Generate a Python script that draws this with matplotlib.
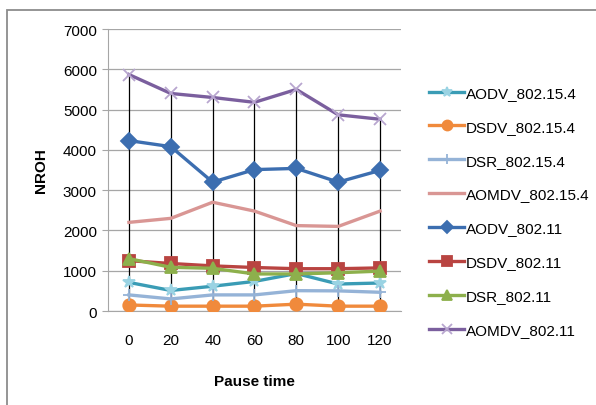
import matplotlib
matplotlib.use("Agg")
import matplotlib.pyplot as plt
from matplotlib.patches import Rectangle

plt.rcParams['font.family'] = ['Liberation Sans', 'DejaVu Sans']

pause = ['0', '20', '40', '60', '80', '100', '120']

aodv_154 = [710, 510, 615, 735, 930, 670, 695]
dsdv_154 = [150, 120, 120, 120, 170, 120, 120]
dsr_154 = [400, 300, 400, 400, 505, 500, 465]
aomdv_154 = [2200, 2300, 2700, 2480, 2120, 2100, 2480]
aodv_11 = [4230, 4080, 3200, 3510, 3540, 3200, 3490]
dsdv_11 = [1250, 1180, 1120, 1080, 1050, 1050, 1070]
dsr_11 = [1300, 1085, 1060, 920, 920, 950, 990]
aomdv_11 = [5870, 5400, 5300, 5180, 5500, 4870, 4760]

series = [
    ('AODV_802.15.4', aodv_154, '#3A9CB5', '*', '#9AD3E3', 9),
    ('DSDV_802.15.4', dsdv_154, '#F08A3C', 'o', '#F08A3C', 9),
    ('DSR_802.15.4', dsr_154, '#95B3D7', '+', '#95B3D7', 9),
    ('AOMDV_802.15.4', aomdv_154, '#D99694', None, '#D99694', 0),
    ('AODV_802.11', aodv_11, '#3C6EB0', 'D', '#3C6EB0', 8),
    ('DSDV_802.11', dsdv_11, '#B94441', 's', '#B94441', 9),
    ('DSR_802.11', dsr_11, '#8DB04C', '^', '#8DB04C', 9),
    ('AOMDV_802.11', aomdv_11, '#7B5F9E', 'x', '#B8A6CF', 9),
]

fig = plt.figure(figsize=(5.96, 4.06), dpi=100)
fig.patches.append(Rectangle((7.5 / 596, -0.1), 1.2, (406 - 10.5) / 406 + 0.1,
                             transform=fig.transFigure, fill=False,
                             edgecolor='#8C8C8C', linewidth=1.3))
ax = fig.add_axes([0.1812, 0.2315, 0.4916, 0.6946])

x = list(range(len(pause)))
# high-low lines
ax.vlines(x, 0, aomdv_11, colors='black', linewidth=0.9, zorder=2)

for name, vals, col, mk, mcol, ms in series:
    ax.plot(x, vals, color=col, linewidth=2.4, marker=mk, markersize=ms,
            markerfacecolor=mcol, markeredgecolor=mcol, markeredgewidth=1.3,
            label=name, zorder=3)

ax.set_xlim(-0.5, 6.5)
ax.set_ylim(0, 7000)
ax.set_yticks(range(0, 7001, 1000))
ax.set_xticks(x)
ax.set_xticklabels(pause)
ax.grid(axis='y', color='#A6A6A6', linewidth=0.9)
ax.set_axisbelow(True)
for s in ['top', 'right']:
    ax.spines[s].set_visible(False)
ax.spines['left'].set_color('#A6A6A6')
ax.spines['bottom'].set_color('#A6A6A6')
ax.tick_params(axis='y', colors='#A6A6A6', labelcolor='black', labelsize=11, length=4, pad=4)
ax.tick_params(axis='x', length=0, labelsize=11, pad=16)

ax.set_ylabel('NROH', fontsize=11, fontweight='bold', labelpad=11)
ax.set_xlabel('Pause time', fontsize=11, fontweight='bold', labelpad=19)

ax.legend(loc='upper left', bbox_to_anchor=(1.075, 0.82), frameon=False,
          fontsize=11, labelspacing=1.3, handlelength=2.3, handletextpad=0.1,
          borderaxespad=0, markerscale=0.8)

fig.savefig('out.png', dpi=100)
